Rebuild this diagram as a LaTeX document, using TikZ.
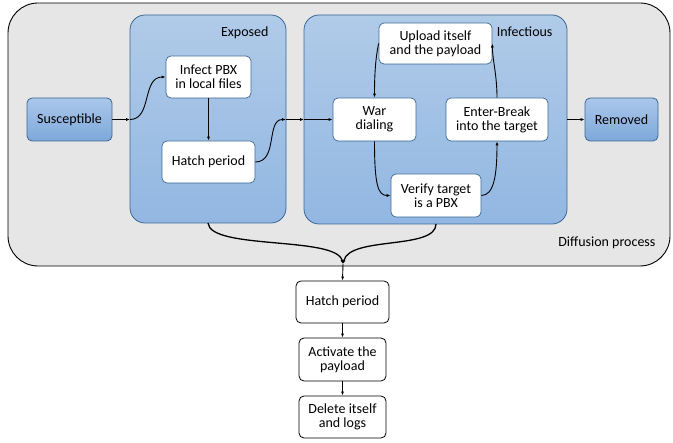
\documentclass[tikz,border=0pt]{standalone}
\usepackage{fontspec}
\setmainfont{Carlito}
\usetikzlibrary{arrows.meta,shadings}
\definecolor{grayfill}{HTML}{E6E6E6}
\definecolor{bluetop}{HTML}{B0CBE8}
\definecolor{bluebot}{HTML}{92B7E2}
\definecolor{stop}{HTML}{AAC7EA}
\definecolor{sbot}{HTML}{7EA8DA}
\definecolor{blueline}{HTML}{3A6796}
\tikzset{
  txt/.style={font=\fontsize{14}{14.2}\selectfont, align=center, text=black},
  stagebox/.style={txt, draw=blueline, line width=0.8pt, rounded corners=5pt, top color=stop, bottom color=sbot, inner sep=0pt},
  innerbox/.style={txt, draw=blueline, line width=0.7pt, rounded corners=5pt, fill=white, inner sep=0pt},
  plainbox/.style={txt, draw=black, line width=0.8pt, rounded corners=5pt, fill=white, inner sep=0pt},
  region/.style={draw=blueline, line width=0.8pt, rounded corners=15pt, top color=bluetop, bottom color=bluebot},
  arr/.style={line width=0.9pt, -{Latex[length=4pt,width=3pt]}},
  arrb/.style={line width=1.3pt, -{Latex[length=4pt,width=3.2pt]}},
}
\begin{document}
\begin{tikzpicture}[x=1pt,y=-1pt]
\useasboundingbox (0,0) rectangle (673,443);
% outer diffusion region
\draw[line width=0.9pt, fill=grayfill, rounded corners=30pt] (8,3) rectangle (670,266);
\node[txt, anchor=east] (difflbl) at (659,243) {Diffusion process};
% exposed and infectious regions
\draw[region] (130,15) rectangle (286,223);
\node[txt, anchor=east] (explbl) at (272,33) {Exposed};
\draw[region] (304,15) rectangle (567,224);
\node[txt, anchor=east] (inflbl) at (556,32) {Infectious};
% stage boxes
\node[stagebox, minimum width=85pt, minimum height=43pt] (sus) at (69.5,119.5) {Susceptible};
\node[stagebox, minimum width=73pt, minimum height=43pt] (rem) at (621.5,119.5) {Removed};
% exposed inner boxes
\node[innerbox, minimum width=85pt, minimum height=42pt] (infect) at (208.5,77) {Infect PBX\\in local files};
\node[innerbox, minimum width=93pt, minimum height=42pt] (hatchA) at (208.5,162) {Hatch period};
% infectious inner boxes
\node[innerbox, minimum width=113pt, minimum height=41pt] (upload) at (435.5,43.5) {Upload itself\\and the payload};
\node[innerbox, minimum width=83pt, minimum height=43pt] (war) at (374.5,119.5) {War\\dialing};
\node[innerbox, minimum width=102pt, minimum height=43pt] (enter) at (497,119.5) {Enter-Break\\into the target};
\node[innerbox, minimum width=90pt, minimum height=43pt] (verify) at (436,195.5) {Verify target\\is a PBX};
% bottom chain
\node[plainbox, minimum width=93pt, minimum height=42pt] (hatchB) at (342.5,302) {Hatch period};
\node[plainbox, minimum width=87pt, minimum height=43pt] (activate) at (342.5,359.5) {Activate the\\payload};
\node[plainbox, minimum width=87pt, minimum height=42pt] (delete) at (342.5,417) {Delete itself\\and logs};
% coordinates on region borders
\coordinate (eL) at (130,119.5);
\coordinate (eR) at (286,119.5);
\coordinate (iL) at (304,119.5);
\coordinate (iR) at (567,119.5);
\coordinate (eB) at (208,223);
\coordinate (iB) at (436,224);
\coordinate (m) at (343,264);
% connectors
\draw[arrb] (sus.east) -- (eL);
\draw[arr] (eL) .. controls (152,119.5) and (142,77) .. (infect.west);
\draw[arr] (infect.south) -- (hatchA.north);
\draw[arr] (hatchA.east) .. controls (278,162) and (266,119.5) .. (eR);
\draw[arrb] (eR) -- (iL);
\draw[arr] (iL) -- (war.west);
\draw[arrb] (iR) -- (rem.west);
\draw[arr] (upload.west) .. controls (375,60) and (374.5,80) .. (war.north);
\draw[arr] (war.south) .. controls (374.5,185) and (378,195.5) .. (verify.west);
\draw[arr] (verify.east) .. controls (494,195.5) and (497,175) .. (enter.south);
\draw[arr] (enter.north) .. controls (497,75) and (492.5,60) .. (upload.east);
\draw[arrb] (eB) .. controls (210,250) and (336,236) .. (m);
\draw[arrb] (iB) .. controls (436,250) and (350,236) .. (m);
\draw[arr] (m) -- (hatchB.north);
\draw[arr] (hatchB.south) -- (activate.north);
\draw[arr] (activate.south) -- (delete.north);
\end{tikzpicture}
\end{document}
